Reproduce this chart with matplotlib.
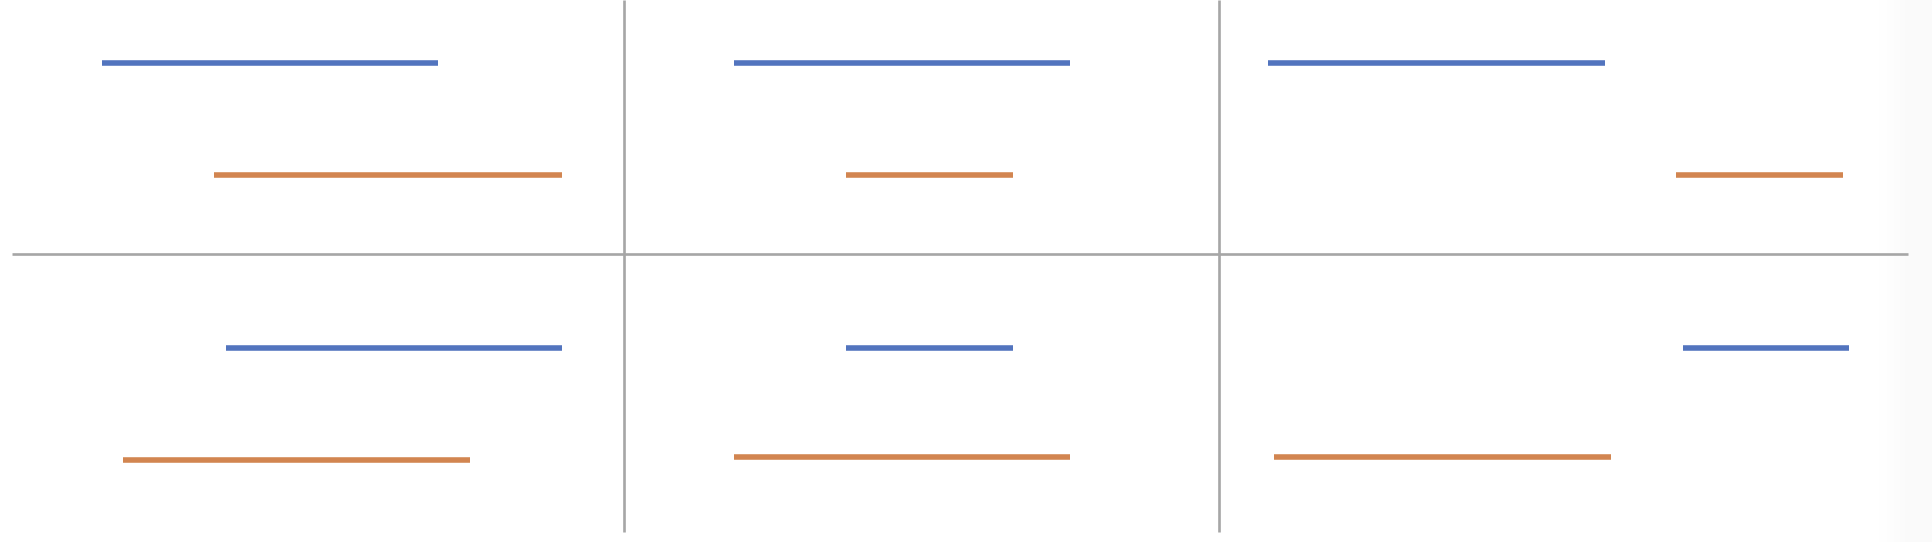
"""
区間比較チャート（3列 x 2段）
"""
import numpy as np
import matplotlib
matplotlib.use("Agg")  # GUIを使わないバックエンド
import matplotlib.pyplot as plt

# データ（各列の区間: 開始, 終了）
blue_top_start = [102, 734, 1268]
blue_top_end = [438, 1070, 1605]
orange_top_start = [214, 846, 1676]
orange_top_end = [562, 1013, 1843]

blue_bottom_start = [226, 846, 1683]
blue_bottom_end = [562, 1013, 1849]
orange_bottom_start = [123, 734, 1274]
orange_bottom_end = [470, 1070, 1611]

# 区切り線
column_breaks = [624, 1219]
row_break = 254

# レイアウト（段ごとのy位置）
Y_BLUE_TOP, Y_ORANGE_TOP = 63, 175
Y_BLUE_BOTTOM = 348
Y_ORANGE_BOTTOM = [460, 457, 457]

BLUE = "#5274be"
ORANGE = "#d28550"
GRID = "#a6a6a6"

W, H = 1932, 542

fig = plt.figure(figsize=(W / 100, H / 100), dpi=100)
ax = fig.add_axes([0, 0, 1, 1])
ax.set_xlim(0, W)
ax.set_ylim(H, 0)
ax.axis("off")

# 右端の薄いグラデーション
grad = np.linspace(0, 1, 128).reshape(1, -1)
grad = np.clip(grad * 1.8, 0, 1) ** 1.5
ax.imshow(grad, extent=(1872, W, H, 0), cmap="Greys", vmin=0, vmax=28,
          aspect="auto", interpolation="bilinear", zorder=0)

# 区切り線
ax.hlines(row_break, 12, 1908, color=GRID, linewidth=1.9, zorder=1)
ax.vlines(column_breaks, 0, 532, color=GRID, linewidth=1.9, zorder=1)

# 区間
lw = 4.0
ax.hlines([Y_BLUE_TOP] * 3, blue_top_start, blue_top_end, color=BLUE, linewidth=lw, zorder=2)
ax.hlines([Y_ORANGE_TOP] * 3, orange_top_start, orange_top_end, color=ORANGE, linewidth=lw, zorder=2)
ax.hlines([Y_BLUE_BOTTOM] * 3, blue_bottom_start, blue_bottom_end, color=BLUE, linewidth=lw, zorder=2)
ax.hlines(Y_ORANGE_BOTTOM, orange_bottom_start, orange_bottom_end, color=ORANGE, linewidth=lw, zorder=2)

plt.savefig("out.png", dpi=100)
plt.close()
